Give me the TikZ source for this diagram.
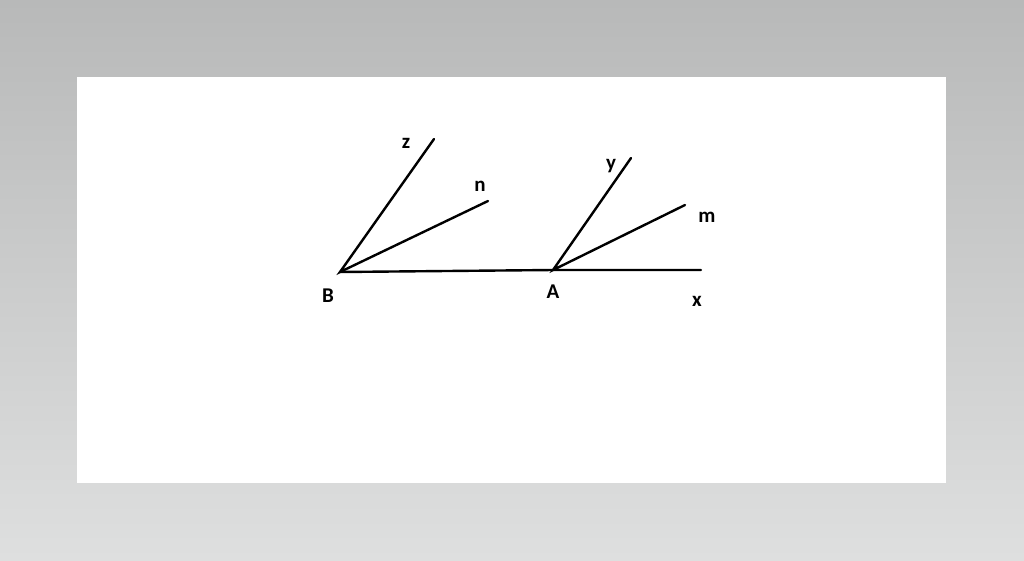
\documentclass[tikz,border=0pt]{standalone}
\usepackage{fontspec}
\setmainfont{Carlito}
\definecolor{bgtop}{RGB}{184,185,185}
\definecolor{bgbottom}{RGB}{222,223,223}
\begin{document}
\begin{tikzpicture}[
    x=1pt, y=-1pt,
    ray/.style={line width=2.4pt, line cap=round},
    lbl/.style={font=\fontsize{21}{21}\selectfont\bfseries, inner sep=0pt}
]
  \useasboundingbox (0,0) rectangle (1024,560);
  \shade[top color=bgtop, bottom color=bgbottom] (0,0) rectangle (1024,560);
  \fill[white] (77,77) rectangle (946,483);
  % vertices
  \coordinate (B) at (340,272);
  \coordinate (A) at (553,270);
  % ray ends
  \coordinate (z) at (434,139);
  \coordinate (n) at (488,201);
  \coordinate (y) at (631,158);
  \coordinate (m) at (685,205);
  \coordinate (x) at (701,270);
  \draw[ray] (z) -- (B) -- (n);
  \draw[ray] (B) -- (A) -- (x);
  \draw[ray] (y) -- (A) -- (m);
  % labels
  \node[lbl] (lz) at (406,143) {z};
  \node[lbl] (ln) at (480,186) {n};
  \node[lbl] (ly) at (611,166) {y};
  \node[lbl] (lm) at (707,217) {m};
  \node[lbl] (lB) at (328,296) {B};
  \node[lbl] (lA) at (553,292) {A};
  \node[lbl] (lx) at (697,301) {x};
\end{tikzpicture}
\end{document}
